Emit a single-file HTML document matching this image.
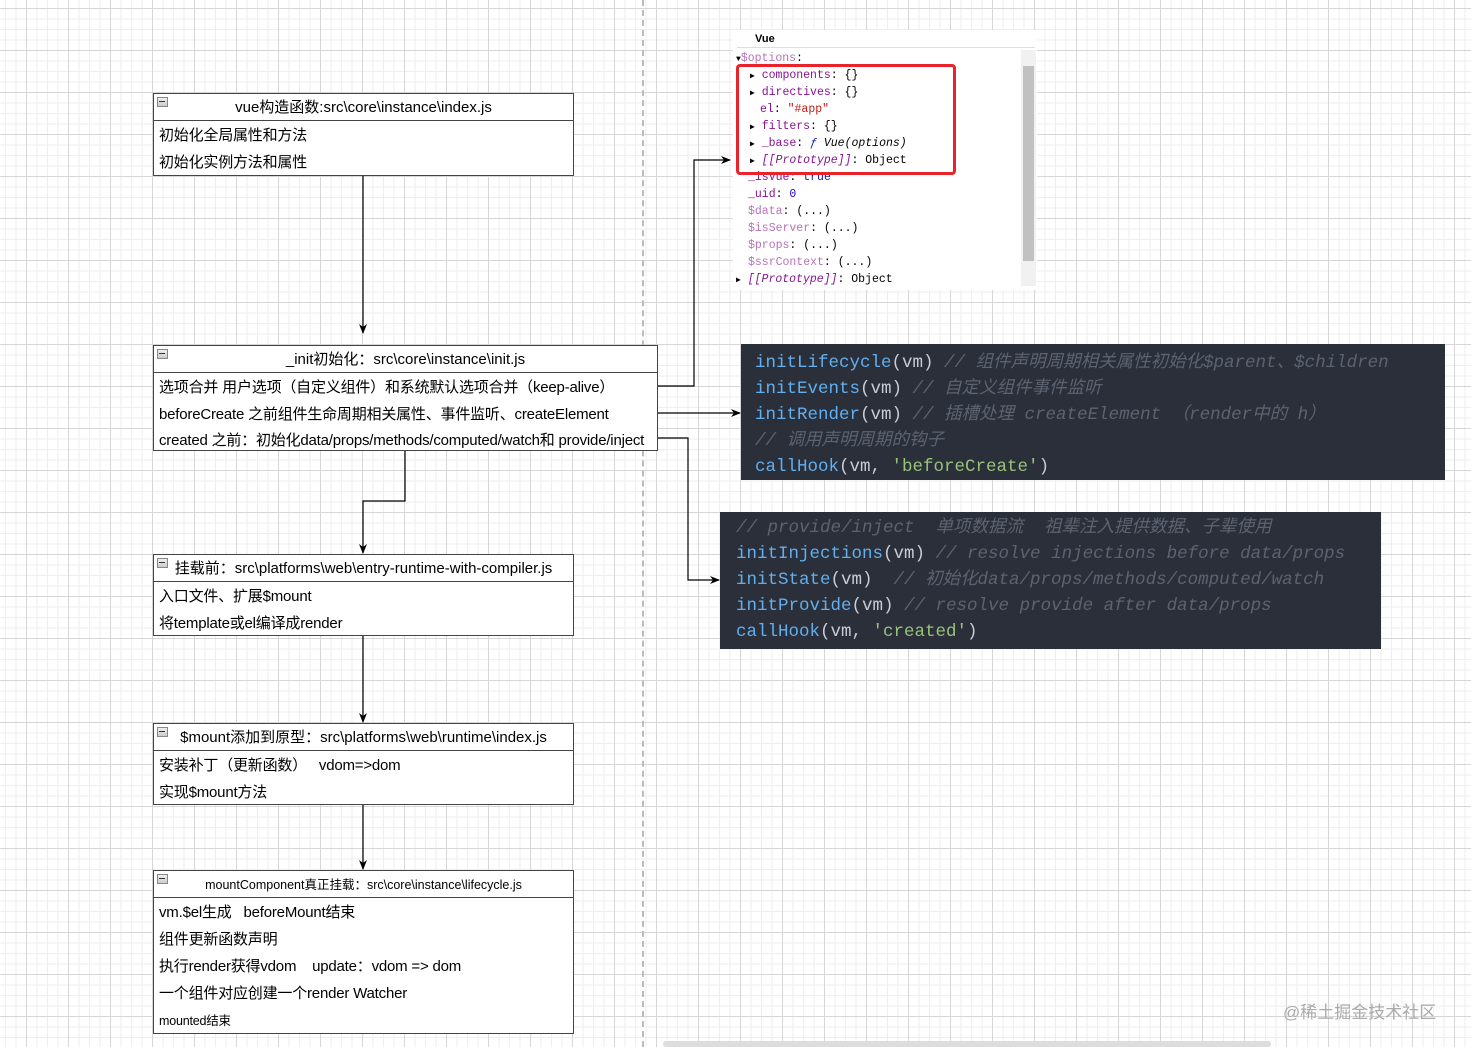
<!DOCTYPE html>
<html><head><meta charset="utf-8"><style>
*{margin:0;padding:0;box-sizing:border-box}
body{width:1471px;height:1047px;position:relative;overflow:hidden;background-color:#fff;
background-image:linear-gradient(to right,#d6d6d6 1px,transparent 1px),linear-gradient(to bottom,#d6d6d6 1px,transparent 1px),linear-gradient(to right,#eeeeee 1px,transparent 1px),linear-gradient(to bottom,#eeeeee 1px,transparent 1px);
background-size:42px 42px,42px 42px,10.5px 10.5px,10.5px 10.5px;background-position:26px 8px,26px 8px,5px 8px,5px 8px;
font-family:"Liberation Sans","Noto Sans CJK SC",sans-serif;color:#000}
.box{position:absolute;border:1px solid #444;background:#fff;font-size:15px}
.hd{height:27px;border-bottom:1px solid #444;text-align:center;line-height:28px;position:relative}
.hd:before{content:"";position:absolute;left:3px;top:3px;width:9px;height:8px;border:1px solid #888;background:linear-gradient(#eee,#ccc)}
.hd:after{content:"";position:absolute;left:5px;top:7px;width:6px;height:1px;background:#333}
.r{height:27px;line-height:30px;padding-left:5px;white-space:nowrap;letter-spacing:-0.2px}
.code{position:absolute;background:#2b2f3a;font-family:"Liberation Mono","Noto Sans CJK SC",monospace;font-size:17.5px;line-height:26px;white-space:pre;color:#c8ccd4}
.f{color:#61afef}.c{color:#5c6370;font-style:italic}.s{color:#98c379}
.dt{position:absolute;left:733px;top:30px;width:304px;height:260px;background:#fff;font-family:"Liberation Mono","DejaVu Sans Mono",monospace;font-size:11.5px;line-height:17px}
.dt div{position:absolute;white-space:pre}
.p{color:#881391}.pl{color:#b673b9}
svg{position:absolute;left:0;top:0}
</style></head><body>
<div style="position:absolute;left:642px;top:0;width:0;height:1047px;border-left:2px dashed #bbb"></div>

<svg width="1471" height="1047">
<defs><marker id="a" markerWidth="10" markerHeight="10" refX="9" refY="5" orient="auto" markerUnits="userSpaceOnUse"><path d="M0,1 L10,5 L0,9 L3,5z" fill="#000"/></marker></defs>
<g stroke="#000" stroke-width="1.2" fill="none">
<path d="M363,175 V333" marker-end="url(#a)"/>
<path d="M405,450 V501 H363 V553" marker-end="url(#a)"/>
<path d="M363,635 V722" marker-end="url(#a)"/>
<path d="M363,804 V869" marker-end="url(#a)"/>
<path d="M657,386 H694 V160 H730" marker-end="url(#a)"/>
<path d="M657,413 H740" marker-end="url(#a)"/>
<path d="M657,438 H688 V580 H719" marker-end="url(#a)"/>
</g></svg>

<div class="box" style="left:153px;top:93px;width:421px;height:83px"><div class="hd">vue构造函数:src\core\instance\index.js</div><div class="r">初始化全局属性和方法</div><div class="r">初始化实例方法和属性</div></div>

<div class="box" style="left:153px;top:345px;width:505px;height:106px"><div class="hd">_init初始化：src\core\instance\init.js</div><div class="r">选项合并 用户选项（自定义组件）和系统默认选项合并（keep-alive）</div><div class="r">beforeCreate 之前组件生命周期相关属性、事件监听、createElement</div><div class="r" style="height:24px;line-height:28px">created 之前：初始化data/props/methods/computed/watch和 provide/inject</div></div>

<div class="box" style="left:153px;top:554px;width:421px;height:82px"><div class="hd">挂载前：src\platforms\web\entry-runtime-with-compiler.js</div><div class="r">入口文件、扩展$mount</div><div class="r">将template或el编译成render</div></div>

<div class="box" style="left:153px;top:723px;width:421px;height:82px"><div class="hd">$mount添加到原型：src\platforms\web\runtime\index.js</div><div class="r">安装补丁（更新函数）&nbsp;&nbsp;&nbsp;vdom=&gt;dom</div><div class="r">实现$mount方法</div></div>

<div class="box" style="left:153px;top:870px;width:421px;height:164px"><div class="hd" style="font-size:12.5px">mountComponent真正挂载：src\core\instance\lifecycle.js</div><div class="r">vm.$el生成&nbsp;&nbsp;&nbsp;beforeMount结束</div><div class="r">组件更新函数声明</div><div class="r">执行render获得vdom&nbsp;&nbsp;&nbsp;&nbsp;update：vdom =&gt; dom</div><div class="r">一个组件对应创建一个render Watcher</div><div class="r" style="font-size:12.5px">mounted结束</div></div>

<div class="dt">
<div style="left:22px;top:1px;font-family:'Liberation Sans',sans-serif;font-weight:bold;font-size:11px">Vue</div>
<div style="left:4px;top:17px;width:298px;border-top:1px solid #ddd;height:0"></div>
<div style="left:3px;top:20px"><span style="font-size:8px">▼</span><span class="pl">$options</span>:</div>
<div style="left:17px;top:37px"><span style="font-size:8px">▶</span> <span class="p">components</span>: {}</div>
<div style="left:17px;top:54px"><span style="font-size:8px">▶</span> <span class="p">directives</span>: {}</div>
<div style="left:27px;top:71px"><span class="p">el</span>: <span style="color:#c41a16">"#app"</span></div>
<div style="left:17px;top:88px"><span style="font-size:8px">▶</span> <span class="p">filters</span>: {}</div>
<div style="left:17px;top:105px"><span style="font-size:8px">▶</span> <span class="p">_base</span>: <i style="color:#0d22aa">ƒ</i> <i>Vue(options)</i></div>
<div style="left:17px;top:122px"><span style="font-size:8px">▶</span> <i class="p">[[Prototype]]</i>: Object</div>
<div style="left:15px;top:139px"><span class="p">_isVue</span>: <span style="color:#0d22aa">true</span></div>
<div style="left:15px;top:156px"><span class="p">_uid</span>: <span style="color:#1c00cf">0</span></div>
<div style="left:15px;top:173px"><span class="pl">$data</span>: (...)</div>
<div style="left:15px;top:190px"><span class="pl">$isServer</span>: (...)</div>
<div style="left:15px;top:207px"><span class="pl">$props</span>: (...)</div>
<div style="left:15px;top:224px"><span class="pl">$ssrContext</span>: (...)</div>
<div style="left:3px;top:241px"><span style="font-size:8px">▶</span> <i class="p">[[Prototype]]</i>: Object</div>
<div style="left:288px;top:20px;width:15px;height:236px;background:#f1f1f1"></div>
<div style="left:290px;top:36px;width:11px;height:195px;background:#c1c1c1"></div>
<div style="left:3px;top:34px;width:220px;height:111px;border:3px solid #e8232a;border-radius:4px"></div>
</div>

<div class="code" style="left:741px;top:344px;width:704px;height:136px;padding:6px 0 0 14px"><span class="f">initLifecycle</span>(vm) <span class="c">// 组件声明周期相关属性初始化$parent、$children</span>
<span class="f">initEvents</span>(vm) <span class="c">// 自定义组件事件监听</span>
<span class="f">initRender</span>(vm) <span class="c">// 插槽处理 createElement （render中的 h）</span>
<span class="c">// 调用声明周期的钩子</span>
<span class="f">callHook</span>(vm, <span class="s">'beforeCreate'</span>)</div>

<div class="code" style="left:720px;top:512px;width:661px;height:137px;padding:3px 0 0 16px"><span class="c">// provide/inject  单项数据流  祖辈注入提供数据、子辈使用</span>
<span class="f">initInjections</span>(vm) <span class="c">// resolve injections before data/props</span>
<span class="f">initState</span>(vm)  <span class="c">// 初始化data/props/methods/computed/watch</span>
<span class="f">initProvide</span>(vm) <span class="c">// resolve provide after data/props</span>
<span class="f">callHook</span>(vm, <span class="s">'created'</span>)</div>

<div style="position:absolute;left:1283px;top:998px;font-size:17px;color:#aaa">@稀土掘金技术社区</div>
<div style="position:absolute;left:663px;top:1041px;width:608px;height:6px;background:#ddd;border-radius:3px"></div>
</body></html>
